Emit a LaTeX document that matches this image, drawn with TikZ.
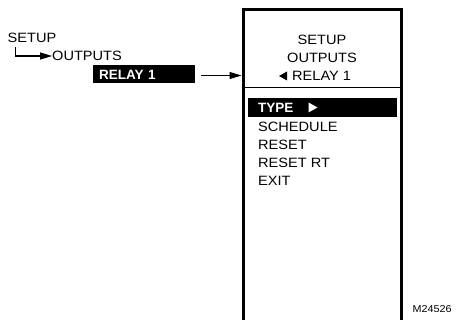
\documentclass[tikz,border=0pt]{standalone}
\usepackage{fontspec}
\setmainfont{Liberation Sans}[FakeStretch=1.08]
\newfontfamily\boldplain{Liberation Sans Bold}
\usetikzlibrary{arrows.meta}
\begin{document}
\begin{tikzpicture}[x=1pt,y=-1pt,
  txt/.style={inner sep=0pt,font=\fontsize{13.5}{15}\selectfont},
  btxt/.style={inner sep=0pt,text=white,font=\fontsize{13.5}{15}\selectfont\boldplain},
  ln/.style={line width=1.1pt},
  tip/.style={-{Triangle[length=12pt,width=7pt]}}]
\useasboundingbox (0,0) rectangle (459,320);
% left breadcrumb
\node[txt,anchor=west] (setup) at (7.5,38) {SETUP};
\node[txt,anchor=west] (outputs) at (52,56) {OUTPUTS};
\node[btxt,anchor=west,fill=black,inner xsep=6pt,text width=90pt,align=left,
      minimum height=18pt] (relay) at (93,74.5) {RELAY 1};
\coordinate (hk) at (15.5,47);
\draw[ln,tip] (hk) |- (outputs.west);
% screen
\draw[line width=3pt] (243,320) -- (243,9.5) -- (401,9.5) -- (401,320);
\coordinate (scr) at (241.5,75.5);
\coordinate (ra) at (201,75.5);
\draw[ln,tip] (ra) -- (scr);
\draw[line width=0.6pt] (244.5,87) -- (399.5,87);
\node[txt] (s1) at (322,40) {SETUP};
\node[txt] (s2) at (322,58) {OUTPUTS};
\node[txt,anchor=west] (s3) at (292,76) {RELAY 1};
\fill (279,76) -- (287,71.5) -- (287,80.5) -- cycle;
% menu
\fill (248,98) rectangle (397,117.5);
\node[btxt,anchor=west] (m1) at (258,108) {TYPE};
\fill[white] (317.5,107.5) -- (308.5,102.5) -- (308.5,112.5) -- cycle;
\node[txt,anchor=west] (m2) at (258,127) {SCHEDULE};
\node[txt,anchor=west] (m3) at (258,145) {RESET};
\node[txt,anchor=west] (m4) at (258,163) {RESET RT};
\node[txt,anchor=west] (m5) at (258,181) {EXIT};
\node[inner sep=0pt,font=\fontsize{10}{12}\selectfont,anchor=west] (code) at (412.5,309) {M24526};
\end{tikzpicture}
\end{document}
